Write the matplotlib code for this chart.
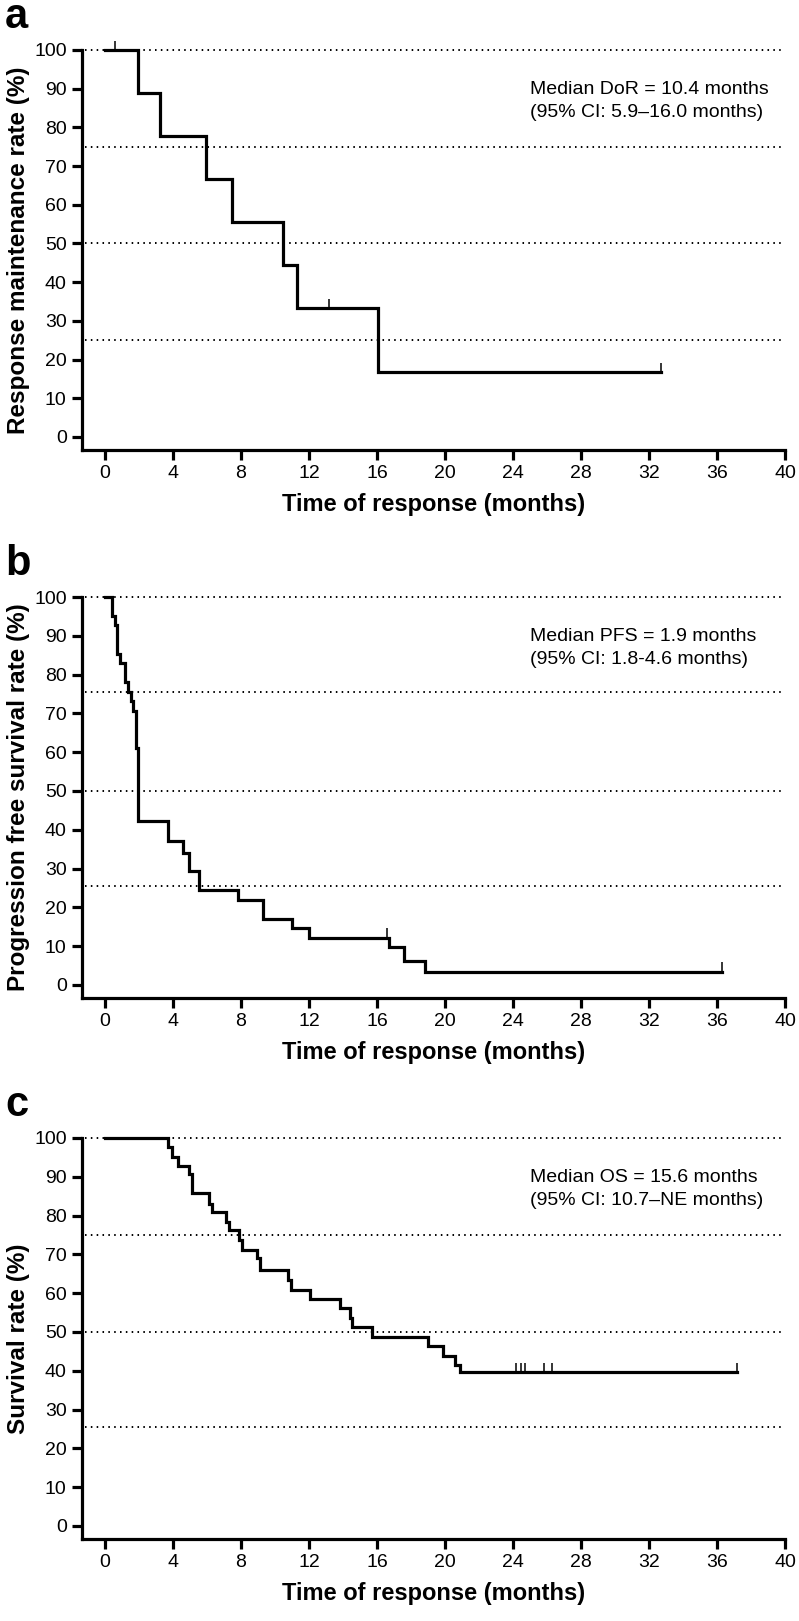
import numpy as np
import matplotlib
matplotlib.use("Agg")
import matplotlib.pyplot as plt

plt.rcParams['font.family'] = ['Liberation Sans', 'DejaVu Sans']

#------------------------------------------------------------------------------#
# Panel a: duration of response
aTime    = [0.0, 1.96, 3.24, 5.94, 7.50, 10.45, 11.27, 16.08]
aSurv    = [100.0, 88.9, 77.8, 66.7, 55.6, 44.4, 33.3, 16.7]
aEnd     = 32.7
aCensor  = [0.6, 13.2, 32.7]

# Panel b: progression free survival
bTime    = [0.0, 0.39, 0.59, 0.69, 0.88, 1.18, 1.37, 1.53, 1.67, 1.80, 1.92,
            1.96, 3.73, 4.60, 4.96, 5.55, 7.80, 9.30, 11.0, 12.0, 16.7, 17.6,
            18.8]
bSurv    = [100.0, 95.1, 92.7, 85.4, 82.9, 78.0, 75.6, 73.2, 70.7, 61.0, 46.3,
            42.2, 37.1, 34.1, 29.3, 24.4, 22.0, 17.1, 14.6, 12.2, 9.8, 6.1,
            3.4]
bEnd     = 36.3
bCensor  = [16.6, 36.3]

# Panel c: overall survival
cTime    = [0.0, 3.73, 3.92, 4.27, 4.96, 5.10, 6.14, 6.27, 7.12, 7.31, 7.90,
            8.04, 8.96, 9.12, 10.78, 10.92, 12.06, 13.82, 14.41, 14.51, 15.69,
            19.0, 19.9, 20.6, 20.9]
cSurv    = [100.0, 97.6, 95.1, 92.7, 90.6, 85.7, 83.1, 81.0, 78.4, 76.3, 73.7,
            71.1, 69.0, 66.0, 63.4, 60.8, 58.4, 56.1, 53.5, 51.2, 48.8,
            46.3, 43.9, 41.5, 39.6]
cEnd     = 37.2
cCensor  = [24.2, 24.45, 24.7, 25.8, 26.3, 37.2]

yLabels  = ["Response maintenance rate (%)",
            "Progression free survival rate (%)",
            "Survival rate (%)"]
xLabel   = "Time of response (months)"
notes    = ["Median DoR = 10.4 months\n(95% CI: 5.9\u201316.0 months)",
            "Median PFS = 1.9 months\n(95% CI: 1.8-4.6 months)",
            "Median OS = 15.6 months\n(95% CI: 10.7\u2013NE months)"]
letters  = ["a", "b", "c"]
refLines = [[100, 75, 50, 25], [100, 75.5, 50, 25.5], [100, 75, 50, 25.5]]

#------------------------------------------------------------------------------#

W, H = 799, 1621
fig  = plt.figure(figsize=(W/100, H/100), dpi=100)

# pixel frames: (left spine, right x=40, y=100 line, bottom spine)
frames = [(82, 785, 50, 450), (82, 785, 597, 998), (82, 785, 1138, 1539)]

def km_plot(ax, t, s, tEnd, censor):
    x = list(t) + [tEnd]
    y = list(s) + [s[-1]]
    ax.step(x, y, where='post', color='k', lw=2.3, clip_on=False,
            solid_joinstyle='miter', zorder=3)
    for c in censor:
        idx = np.searchsorted(t, c, side='right') - 1
        ax.vlines(c, s[idx], s[idx] + 2.4, color='k', lw=1.1,
                  clip_on=False, zorder=3)

panels = [(aTime, aSurv, aEnd, aCensor),
          (bTime, bSurv, bEnd, bCensor),
          (cTime, cSurv, cEnd, cCensor)]

for i, (t, s, tEnd, censor) in enumerate(panels):

    l, r, top, bot = frames[i]
    ax = fig.add_axes([l/W, 1 - bot/H, (r - l)/W, (bot - top)/H])

    x0 = -1.35
    ax.set_xlim(x0, 40)
    ax.set_ylim(-3.36, 100)

    for ref in refLines[i]:
        ax.plot([x0 + 0.2, 40], [ref, ref], color='k', lw=1.4,
                linestyle=(0, (0.8, 2.2)), zorder=1, clip_on=False)

    km_plot(ax, t, s, tEnd, censor)

    ax.spines['top'].set_visible(False)
    ax.spines['right'].set_visible(False)
    for sp in ['left', 'bottom']:
        ax.spines[sp].set_linewidth(2.3)

    ax.set_xticks(np.arange(0, 41, 4))
    ax.set_yticks(np.arange(0, 101, 10))
    ax.tick_params(length=7, width=2.3, labelsize=14, pad=4)

    ax.set_xlabel(xLabel, fontsize=17, fontweight='bold', labelpad=8)
    ax.set_ylabel(yLabels[i], fontsize=17.5, fontweight='bold', labelpad=3)

    ax.text(25.0, 86.8, notes[i], fontsize=14, va='center', ha='left',
            linespacing=1.45)

    fig.text(5/W, 1 - (top - 22)/H, letters[i], fontsize=30,
             fontweight='bold', va='baseline', ha='left')

fig.savefig("out.png", dpi=100)
